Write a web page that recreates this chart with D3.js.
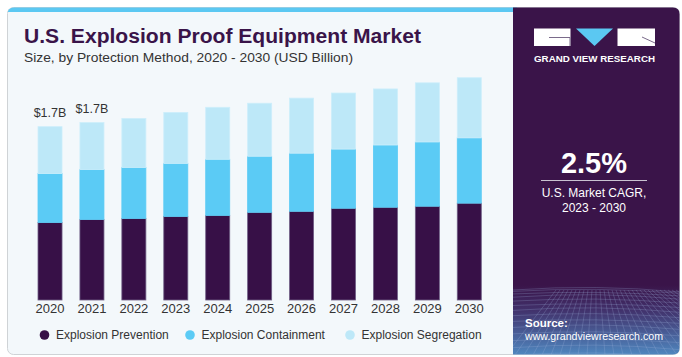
<!DOCTYPE html>
<html>
<head>
<meta charset="utf-8">
<script src="https://cdn.jsdelivr.net/npm/d3@7"></script>
<style>
html,body{margin:0;padding:0;background:#fff;}
svg{display:block;}
text{font-family:"Liberation Sans",Arial,sans-serif;}
</style>
</head>
<body>
<svg id="chart" width="682" height="357"></svg>
<script>
const years = ["2020","2021","2022","2023","2024","2025","2026","2027","2028","2029","2030"];
const prevention  = [0.76,0.79,0.80,0.82,0.83,0.86,0.87,0.90,0.91,0.92,0.95];
const containment = [0.48,0.49,0.50,0.52,0.55,0.55,0.57,0.58,0.61,0.63,0.64];
const segregation = [0.46,0.46,0.48,0.50,0.51,0.52,0.54,0.55,0.55,0.58,0.59];
const seriesNames = ["Explosion Prevention","Explosion Containment","Explosion Segregation"];
const seriesColors = ["#371047","#5BCBF5","#BDE8F8"];
const valueLabels = [{year:"2020",text:"$1.7B"},{year:"2021",text:"$1.7B"}];

const svg = d3.select("#chart");
const defs = svg.append("defs");

// Card
svg.append("rect").attr("x",7.5).attr("y",7.5).attr("width",672).attr("height",347)
  .attr("rx",6).attr("fill","#F3F8FB").attr("stroke","#cfd3d6").attr("stroke-width",1);
// top blue strip
const clip = defs.append("clipPath").attr("id","cardclip");
clip.append("rect").attr("x",7.5).attr("y",7.5).attr("width",672).attr("height",347).attr("rx",6);
svg.append("rect").attr("x",7).attr("y",7).attr("width",510).attr("height",5)
  .attr("fill","#5BC8F2").attr("clip-path","url(#cardclip)");

// Right panel
const grad = defs.append("linearGradient").attr("id","pgrad").attr("x1",0).attr("y1",0).attr("x2",0).attr("y2",1);
grad.append("stop").attr("offset","0").attr("stop-color","#3A1449");
grad.append("stop").attr("offset","0.8").attr("stop-color","#3A1449");
grad.append("stop").attr("offset","0.87").attr("stop-color","#41306a");
grad.append("stop").attr("offset","1").attr("stop-color","#4f86be");
const pclip = defs.append("clipPath").attr("id","pclip");
pclip.append("path").attr("d","M513,7.5 H673 Q679.5,7.5 679.5,14 V348 Q679.5,354.5 673,354.5 H513 Z");
svg.append("path").attr("d","M513,7.5 H673 Q679.5,7.5 679.5,14 V348 Q679.5,354.5 673,354.5 H513 Z")
  .attr("fill","url(#pgrad)");
// mesh grid
const mesh = svg.append("g").attr("clip-path","url(#pclip)").attr("stroke","#9fb4e0").attr("stroke-opacity",0.35)
  .attr("fill","none").attr("stroke-width",0.7);
for(let i=0;i<14;i++){
  const yy = 290 + Math.pow(i/13,1.5)*65;
  mesh.append("path").attr("d",`M513,${yy} Q596,${yy-6+ (i%3)} 680,${yy+2}`);
}
for(let i=-10;i<=30;i++){
  const xb = 596 + i*9;
  const xt = 596 + i*4;
  mesh.append("path").attr("d",`M${xt},290 L${xb},355`);
}

// Logo
const logo = svg.append("g");
logo.append("rect").attr("x",534).attr("y",28.5).attr("width",36.5).attr("height",17.5).attr("fill","#fff");
logo.append("path").attr("d","M549,37.5 H570 V46").attr("stroke","#7a6a8a").attr("stroke-width",1).attr("fill","none");
logo.append("path").attr("d","M576,28.5 L613,28.5 L594.5,46 Z").attr("fill","#5BC8F2");
logo.append("rect").attr("x",617.5).attr("y",28.5).attr("width",37.5).attr("height",17.5).attr("fill","#fff");
logo.append("path").attr("d","M642,37 L655,43").attr("stroke","#7a6a8a").attr("stroke-width",1);
logo.append("text").attr("x",594.5).attr("y",61.5).attr("text-anchor","middle")
  .attr("font-size",8.6).attr("font-weight","bold").attr("fill","#fff")
  .attr("textLength",121).attr("lengthAdjust","spacingAndGlyphs").text("GRAND VIEW RESEARCH");

// CAGR
svg.append("text").attr("x",594).attr("y",172.5).attr("text-anchor","middle")
  .attr("font-size",29).attr("font-weight","bold").attr("fill","#fff").text("2.5%");
svg.append("line").attr("x1",541).attr("x2",647).attr("y1",180.5).attr("y2",180.5)
  .attr("stroke","#c9c2d1").attr("stroke-width",1);
svg.append("text").attr("x",594).attr("y",197).attr("text-anchor","middle")
  .attr("font-size",12).attr("fill","#fff").text("U.S. Market CAGR,");
svg.append("text").attr("x",594).attr("y",212).attr("text-anchor","middle")
  .attr("font-size",12).attr("fill","#fff").text("2023 - 2030");
svg.append("text").attr("x",525).attr("y",327).attr("font-size",11.5).attr("font-weight","bold")
  .attr("fill","#fff").text("Source:");
svg.append("text").attr("x",525).attr("y",340).attr("font-size",11.5).attr("fill","#fff")
  .attr("textLength",138).attr("lengthAdjust","spacingAndGlyphs").text("www.grandviewresearch.com");

// Title
svg.append("text").attr("x",24).attr("y",42.5).attr("font-size",20).attr("font-weight","bold")
  .attr("fill","#3A1449").attr("textLength",397).attr("lengthAdjust","spacingAndGlyphs")
  .text("U.S. Explosion Proof Equipment Market");
svg.append("text").attr("x",24).attr("y",61.5).attr("font-size",13.5).attr("fill","#333")
  .attr("textLength",329).attr("lengthAdjust","spacingAndGlyphs")
  .text("Size, by Protection Method, 2020 - 2030 (USD Billion)");

// Scales
const x = d3.scaleBand().domain(years).range([29.05,490.25]).paddingInner(0.427).paddingOuter(0.2135);
const y = d3.scaleLinear().domain([0,2.5]).range([300,300-2.5*101.96]);

const table = years.map((yr,i)=>({year:yr, p:prevention[i], c:containment[i], s:segregation[i]}));
const stack = d3.stack().keys(["p","c","s"])(table);

const g = svg.append("g");
g.selectAll("g.layer").data(stack).join("g").attr("class","layer")
  .attr("fill",(d,i)=>seriesColors[i])
  .attr("stroke",(d,i)=> i===0 ? "#6f5e85" : (i===1 ? "#5BCBF5" : "#cdeefb"))
  .attr("stroke-width",0.8)
  .selectAll("rect").data(d=>d).join("rect")
  .attr("x",d=>x(d.data.year)).attr("width",x.bandwidth())
  .attr("y",d=>y(d[1])).attr("height",d=>y(d[0])-y(d[1]));

// value labels
const totals = years.map((yr,i)=>prevention[i]+containment[i]+segregation[i]);
g.selectAll("text.val").data(valueLabels).join("text").attr("class","val")
  .attr("x",d=>x(d.year)+x.bandwidth()/2)
  .attr("y",d=>y(totals[years.indexOf(d.year)])-10)
  .attr("text-anchor","middle").attr("font-size",12.5).attr("fill","#333")
  .text(d=>d.text);

// x axis
const ax = svg.append("g").attr("transform","translate(0,300)")
  .call(d3.axisBottom(x).tickSize(0).tickPadding(4));
ax.select(".domain").remove();
ax.selectAll("text").attr("font-family","Roboto, sans-serif").attr("font-size",13).attr("fill","#333")
  .attr("dy","0.71em");

// Legend
const legendX = [44.5,190,350];
const leg = svg.append("g").selectAll("g").data(seriesNames).join("g")
  .attr("transform",(d,i)=>`translate(${legendX[i]},335)`);
leg.append("circle").attr("r",4.8).attr("fill",(d,i)=>seriesColors[i]);
leg.append("text").attr("x",11.5).attr("y",4.3).attr("font-family","Roboto, sans-serif")
  .attr("font-size",12).attr("fill","#333").text(d=>d);
</script>
</body>
</html>
